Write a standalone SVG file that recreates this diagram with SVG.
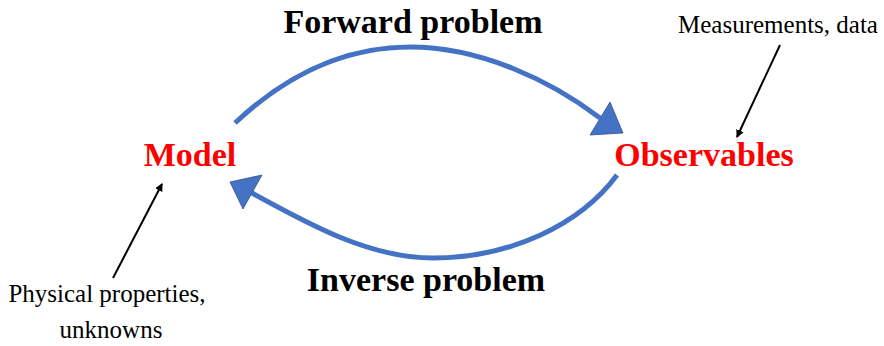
<svg xmlns="http://www.w3.org/2000/svg" width="884" height="346" viewBox="0 0 884 346">
  <style>
    .arc { fill: none; stroke: #4472C4; stroke-width: 5; }
    .head { fill: #4472C4; stroke: #2F528F; stroke-width: 0.8; stroke-linejoin: miter; }
    .ptr { fill: none; stroke: #000; stroke-width: 2; }
    .title { font-family: "Liberation Serif", "Times New Roman", serif; font-weight: bold; font-size: 34px; fill: #000; text-anchor: middle; }
    .node { font-family: "Liberation Serif", "Times New Roman", serif; font-weight: bold; font-size: 34px; fill: #FF0000; text-anchor: middle; }
    .note { font-family: "Liberation Serif", "Times New Roman", serif; font-size: 25px; fill: #000; text-anchor: middle; }
  </style>
  <defs>
    <marker id="tip" markerWidth="4" markerHeight="4" refX="3.5" refY="2" orient="auto" markerUnits="strokeWidth">
      <path d="M0,0 L4,2 L0,4 z" fill="#000"/>
    </marker>
  </defs>
  <rect width="884" height="346" fill="#fff"/>

  <g id="connectors">
    <g id="forward">
      <path class="arc" d="M235,123 C300,62 360,47 410,47 C480,47 550,80 600,118"/>
      <polygon class="head" points="610,102 590,135 623,133"/>
    </g>
    <g id="inverse">
      <path class="arc" d="M617,175 C580,225 510,258 433,258 C370,258 310,225 252,193"/>
      <polygon class="head" points="262,175 243,209 230,182"/>
    </g>
    <line class="ptr" x1="780" y1="45" x2="737" y2="137" marker-end="url(#tip)"/>
    <line class="ptr" x1="113" y1="278" x2="162" y2="184" marker-end="url(#tip)"/>
  </g>

  <g id="label-forward"><text class="title" x="413" y="33">Forward problem</text></g>
  <g id="label-inverse"><text class="title" x="426" y="291">Inverse problem</text></g>

  <g id="node-model"><text class="node" x="190" y="166">Model</text></g>
  <g id="node-observables"><text class="node" x="704" y="166">Observables</text></g>

  <g id="note-measurements"><text class="note" x="778" y="33">Measurements, data</text></g>
  <g id="note-physical">
    <text class="note" x="107" y="302">Physical properties,</text>
    <text class="note" x="111" y="338">unknowns</text>
  </g>
</svg>
